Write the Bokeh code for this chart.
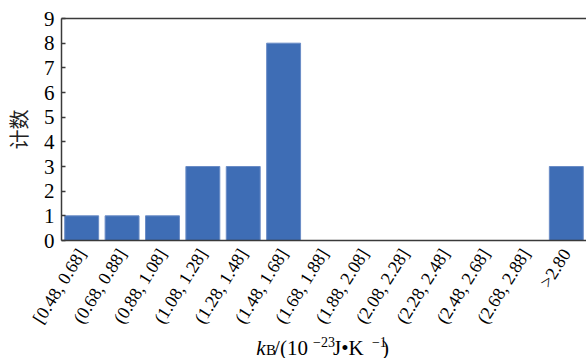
import math
from bokeh.plotting import figure
from bokeh.layouts import column
from bokeh.models import (ColumnDataSource, FixedTicker, Range1d, FactorRange,
                          CategoricalAxis)
from bokeh.core.properties import value
from bokeh.embed import file_html
from bokeh.resources import INLINE

# ---- data ----
bins = ["[0.48, 0.68]", "(0.68, 0.88]", "(0.88, 1.08]", "(1.08, 1.28]",
        "(1.28, 1.48]", "(1.48, 1.68]", "(1.68, 1.88]", "(1.88, 2.08]",
        "(2.08, 2.28]", "(2.28, 2.48]", "(2.48, 2.68]", "(2.68, 2.88]", ">2.80"]
counts = [1, 1, 1, 3, 3, 8, 0, 0, 0, 0, 0, 0, 3]
y_ticks = [0, 1, 2, 3, 4, 5, 6, 7, 8, 9]
y_label = "计数"

BAR = "#3e6db5"
AX = "#3a3a3a"
SERIF = "Times New Roman"

p = figure(width=586, height=335, output_backend="svg", toolbar_location=None,
           x_range=FactorRange(factors=bins, range_padding=0),
           y_range=Range1d(0, 9), title=None,
           min_border_left=60, min_border_right=0, min_border_top=18,
           min_border_bottom=94)
p.outline_line_color = None
p.xgrid.grid_line_color = None
p.ygrid.grid_line_color = None
p.background_fill_color = "white"
p.border_fill_color = "white"

src = ColumnDataSource(dict(x=bins, top=counts))
p.vbar(x="x", top="top", width=0.84, source=src, fill_color=BAR,
       line_color="#6a8cc6", line_width=1)

ya = p.yaxis[0]
ya.ticker = FixedTicker(ticks=y_ticks)
ya.axis_line_color = AX
ya.axis_line_width = 1.5
ya.major_tick_in = 4
ya.major_tick_out = 0
ya.major_tick_line_color = AX
ya.major_tick_line_width = 1.5
ya.minor_tick_line_color = None
ya.major_label_text_font = SERIF
ya.major_label_text_font_size = "21px"
ya.major_label_text_color = "black"
ya.major_label_standoff = 7
ya.axis_label = y_label
ya.axis_label_text_font = "Noto Sans CJK SC"
ya.axis_label_text_font_style = "normal"
ya.axis_label_text_font_size = "20px"
ya.axis_label_text_color = "#222222"
ya.axis_label_standoff = 8

xa = p.xaxis[0]
xa.axis_line_color = AX
xa.axis_line_width = 1.5
xa.major_tick_line_color = None
xa.minor_tick_line_color = None
xa.major_label_orientation = math.radians(58)
xa.major_label_text_font = SERIF
xa.major_label_text_font_size = "18px"
xa.major_label_text_color = "black"
xa.major_label_standoff = 4

top = CategoricalAxis(major_tick_line_color=None, minor_tick_line_color=None,
                      major_label_text_font_size="0px",
                      major_label_text_color=None,
                      axis_line_color=AX, axis_line_width=1.5,
                      major_label_standoff=0)
p.add_layout(top, "above")

# ---- x axis title strip: k_B/(10^-23 J•K^-1) ----
t = figure(frame_height=23, height=23, width=586, output_backend="svg",
           toolbar_location=None,
           x_range=Range1d(60, 586), y_range=Range1d(0, 23), title=None,
           x_axis_location=None, y_axis_location=None,
           min_border_left=60, min_border_right=0,
           min_border_top=0, min_border_bottom=0)
t.outline_line_color = None
t.xgrid.grid_line_color = None
t.ygrid.grid_line_color = None
t.border_fill_color = "white"
t.background_fill_color = "white"

common = dict(text_color="black", text_baseline="alphabetic", text_align="left",
              text_font=value(SERIF))
t.text(x=[255], y=[10.5], text=["k"], text_font_size="21px",
       text_font_style="italic", **common)
t.text(x=[265], y=[8.6], text=["B"], text_font_size="15px", **common)
t.text(x=[273, 332, 381], y=[10.5, 10.5, 10.5], text=["/(10", " J\u2022K", ")"],
       text_font_size="21px", **common)
t.text(x=[312, 371], y=[16.3, 16.3], text=["\u221223", "\u22121"],
       text_font_size="14px", **common)

layout = column(p, t, spacing=0)
open("out.html", "w").write(file_html(layout, INLINE))
